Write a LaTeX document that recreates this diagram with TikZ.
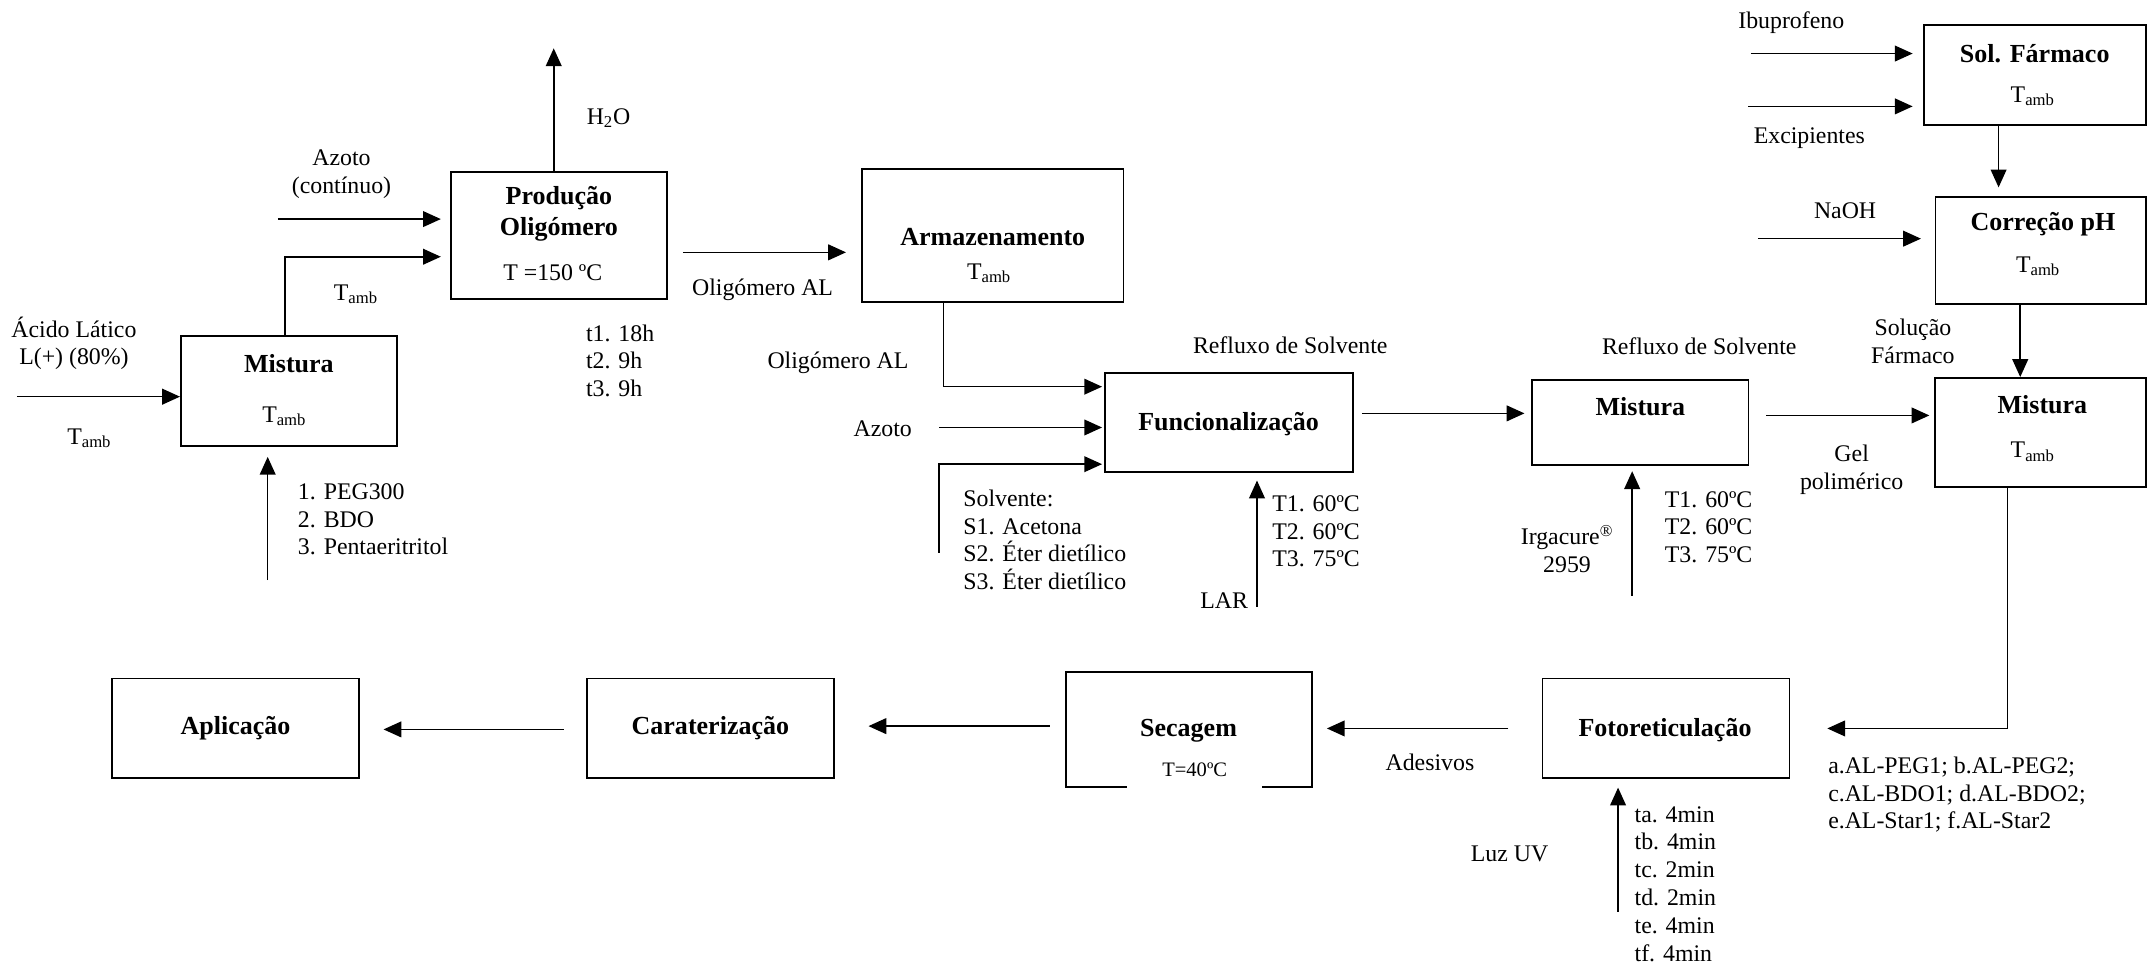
\documentclass[tikz,border=0pt]{standalone}
\usepackage{fontspec}
\setmainfont{Liberation Serif}
\usetikzlibrary{arrows.meta}
\newcommand\txtsz{\fontsize{17.4}{20.3}\selectfont}
\newcommand\ttlsz{\fontsize{19}{22.6}\selectfont\bfseries}
\newcommand\smsz{\fontsize{15}{18}\selectfont}
\newcommand\Tamb{T\textsubscript{amb}}
\begin{document}
\begin{tikzpicture}[x=1pt,y=-1pt]
\tikzset{
  box/.style={draw, rectangle, line width=1.3pt, inner sep=0pt},
  arr/.style={line width=1.15pt, -{Triangle[length=13pt,width=11.5pt]}},
  lbl/.style={inner sep=0pt, font=\txtsz},
  lst/.style={inner sep=0pt, font=\txtsz, align=left, anchor=west},
  ttl/.style={inner sep=0pt, font=\ttlsz, align=center}
}
\useasboundingbox (0,0) rectangle (1568,703);
\fill[white] (0,0) rectangle (1568,703);

% ---------- process boxes ----------
\node[box, minimum width=158pt, minimum height=80.6pt] (mixA) at (211.1,285.5) {};
\node[box, minimum width=158pt, minimum height=93.2pt] (prod) at (408.1,172) {};
\node[box, minimum width=191pt, minimum height=96.7pt] (arm) at (725,172) {};
\node[box, minimum width=181pt, minimum height=72.6pt] (func) at (897.5,308.5) {};
\node[box, minimum width=158pt, minimum height=62.2pt] (mixB) at (1198,308.4) {};
\node[box, minimum width=162pt, minimum height=73pt] (sol) at (1486,54.8) {};
\node[box, minimum width=153.5pt, minimum height=78pt] (cor) at (1490.3,183) {};
\node[box, minimum width=154pt, minimum height=79.6pt] (mixC) at (1490,315.8) {};
\node[box, minimum width=180.3pt, minimum height=72.5pt] (foto) at (1216.7,531.7) {};
\node[box, minimum width=180pt, minimum height=84pt] (sec) at (868.4,533) {};
\node[box, minimum width=180.4pt, minimum height=72.5pt] (car) at (518.8,531.7) {};
\node[box, minimum width=180.5pt, minimum height=72.5pt] (apl) at (172.2,531.7) {};

% ---------- box titles and conditions ----------
\node[ttl] (tMixA) at (211,265.9) {Mistura};
\node[lbl] (cMixA) at (207.6,303.9) {\Tamb};
\node[ttl] (tProd) at (408.2,156.2) {Produção\\Oligómero};
\node[lbl] (cProd) at (403.7,199.2) {T =150 ºC};
\node[ttl] (tArm) at (725,173.4) {Armazenamento};
\node[lbl] (cArm) at (722.3,199.7) {\Tamb};
\node[ttl] (tFunc) at (897.3,310) {Funcionalização};
\node[ttl] (tMixB) at (1198,297) {Mistura};
\node[ttl] (tSol) at (1486,39.1) {Sol. Fármaco};
\node[lbl] (cSol) at (1484.5,70.4) {\Tamb};
\node[ttl] (tCor) at (1492,163.8) {Correção pH};
\node[lbl] (cCor) at (1488.4,194.4) {\Tamb};
\node[ttl] (tMixC) at (1491.6,295.6) {Mistura};
\node[lbl] (cMixC) at (1484.5,330) {\Tamb};
\node[ttl] (tFoto) at (1216,533) {Fotoreticulação};
\node[ttl] (tSec) at (868,533.7) {Secagem};
\node[font=\smsz, fill=white, inner xsep=0pt, inner ysep=1pt,
      text height=10pt, text depth=12pt, minimum width=99pt,
      anchor=base] (cSec) at (872.5,567) {T=40ºC};
\node[ttl] (tCar) at (518.8,532) {Caraterização};
\node[ttl] (tApl) at (172,532) {Aplicação};

% ---------- stream labels ----------
\node[lbl, align=center] (acid) at (54,250.7) {Ácido Lático\\L(+) (80\%)};
\node[lbl] (acidT) at (65.2,320.2) {\Tamb};
\node[lbl, align=center] (azA) at (249.4,127.3) {Azoto\\(contínuo)};
\node[lbl] (mixAT) at (259.9,214.8) {\Tamb};
\node[lst] (polyols) at (217.4,379.3) {1. PEG300\\2. BDO\\3. Pentaeritritol};
\node[lbl] (water) at (444.4,86.4) {H\textsubscript{2}O};
\node[lst] (times) at (427.8,263.5) {t1. 18h\\t2. 9h\\t3. 9h};
\node[lbl] (olA) at (556.9,211.3) {Oligómero AL};
\node[lbl] (olB) at (612,264.7) {Oligómero AL};
\node[lbl] (azB) at (644.7,312.9) {Azoto};
\node[lst] (solv) at (703.4,394.3) {Solvente:\\S1. Acetona\\S2. Éter dietílico\\S3. Éter dietílico};
\node[lbl] (refA) at (942.3,252) {Refluxo de Solvente};
\node[lbl] (lar) at (894,439) {LAR};
\node[lst] (tempA) at (929,388) {T1. 60ºC\\T2. 60ºC\\T3. 75ºC};
\node[lbl] (refB) at (1241,253.2) {Refluxo de Solvente};
\node[lbl, align=center] (irg) at (1144.4,401) {Irgacure\textsuperscript{®}\\2959};
\node[lst] (tempB) at (1215.7,385) {T1. 60ºC\\T2. 60ºC\\T3. 75ºC};
\node[lbl, align=center] (gel) at (1352.3,343) {Gel\\polimérico};
\node[lbl] (ibu) at (1308.2,16.2) {Ibuprofeno};
\node[lbl] (exc) at (1321.4,101.2) {Excipientes};
\node[lbl] (naoh) at (1347.5,153.9) {NaOH};
\node[lbl, align=center] (solF) at (1397,249.2) {Solução\\Fármaco};
\node[lst] (forms) at (1335,580.4) {a.AL-PEG1; b.AL-PEG2;\\c.AL-BDO1; d.AL-BDO2;\\e.AL-Star1; f.AL-Star2};
\node[lbl] (ades) at (1044.3,556.4) {Adesivos};
\node[lbl] (uv) at (1102.5,623.3) {Luz UV};
\node[lst] (uvt) at (1193.6,645.5) {ta. 4min\\tb. 4min\\tc. 2min\\td. 2min\\te. 4min\\tf. 4min};

% ---------- free ends and bends of the streams ----------
\coordinate (acidIn) at (12.4,289.7);
\coordinate (bendA) at (208,187.5);
\coordinate (azInA) at (203,160);
\coordinate (h2oOut) at (404.4,35.3);
\coordinate (polIn) at (195.5,423.7);
\coordinate (pa) at (498.7,184.3);
\coordinate (bendB) at (689,282.4);
\coordinate (azInB) at (685.8,312.2);
\coordinate (solvIn) at (685.8,403.7);
\coordinate (bendC) at (685.8,339);
\coordinate (larIn) at (918,443);
\coordinate (fm) at (994.6,301.9);
\coordinate (irgIn) at (1192,435);
\coordinate (mm) at (1290,303.4);
\coordinate (ibuIn) at (1278.6,39.1);
\coordinate (excIn) at (1276.7,77.7);
\coordinate (sc) at (1459.6,0);
\coordinate (naohIn) at (1283.8,174.3);
\coordinate (cm) at (1475.4,0);
\coordinate (bendD) at (1466,532);
\coordinate (fs) at (1101.5,532);
\coordinate (sca) at (766.8,530.3);
\coordinate (cap) at (411.6,532.7);
\coordinate (uvIn) at (1181.7,666);

% ---------- streams ----------
\draw[arr] (acidIn) -- (acidIn -| mixA.west);
\draw[arr] (mixA.north -| bendA) -- (bendA) -- ([xshift=-6.5pt]bendA -| prod.west);
\draw[arr] (azInA) -- ([xshift=-6.5pt]azInA -| prod.west);
\draw[arr] (prod.north -| h2oOut) -- (h2oOut);
\draw[arr] (polIn) -- ([yshift=-7.2pt]polIn |- mixA.south);
\draw[arr] (pa) -- ([xshift=-11pt]pa -| arm.west);
\draw[arr] (arm.south -| bendB) -- (bendB) -- ([xshift=-1.5pt]bendB -| func.west);
\draw[arr] (azInB) -- ([xshift=-1.5pt]azInB -| func.west);
\draw[arr] (solvIn) -- (bendC) -- ([xshift=-1.5pt]bendC -| func.west);
\draw[arr] (larIn) -- ([yshift=-5.5pt]larIn |- func.south);
\draw[arr] (fm) -- ([xshift=-5pt]fm -| mixB.west);
\draw[arr] (irgIn) -- ([yshift=-4pt]irgIn |- mixB.south);
\draw[arr] (mm) -- ([xshift=-3.3pt]mm -| mixC.west);
\draw[arr] (ibuIn) -- ([xshift=-7.5pt]ibuIn -| sol.west);
\draw[arr] (excIn) -- ([xshift=-7.5pt]excIn -| sol.west);
\draw[arr] (sol.south -| sc) -- ([yshift=6.5pt]sc |- cor.north);
\draw[arr] (naohIn) -- ([xshift=-10pt]naohIn -| cor.west);
\draw[arr] (cor.south -| cm) -- (cm |- mixC.north);
\draw[arr] (mixC.south -| bendD) -- (bendD) -- ([xshift=27pt]bendD -| foto.east);
\draw[arr] (fs) -- ([xshift=10pt]fs -| sec.east);
\draw[arr] (sca) -- ([xshift=24.6pt]sca -| car.east);
\draw[arr] (cap) -- ([xshift=17pt]cap -| apl.east);
\draw[arr] (uvIn) -- ([yshift=-6.6pt]uvIn |- foto.south);
\end{tikzpicture}
\end{document}
